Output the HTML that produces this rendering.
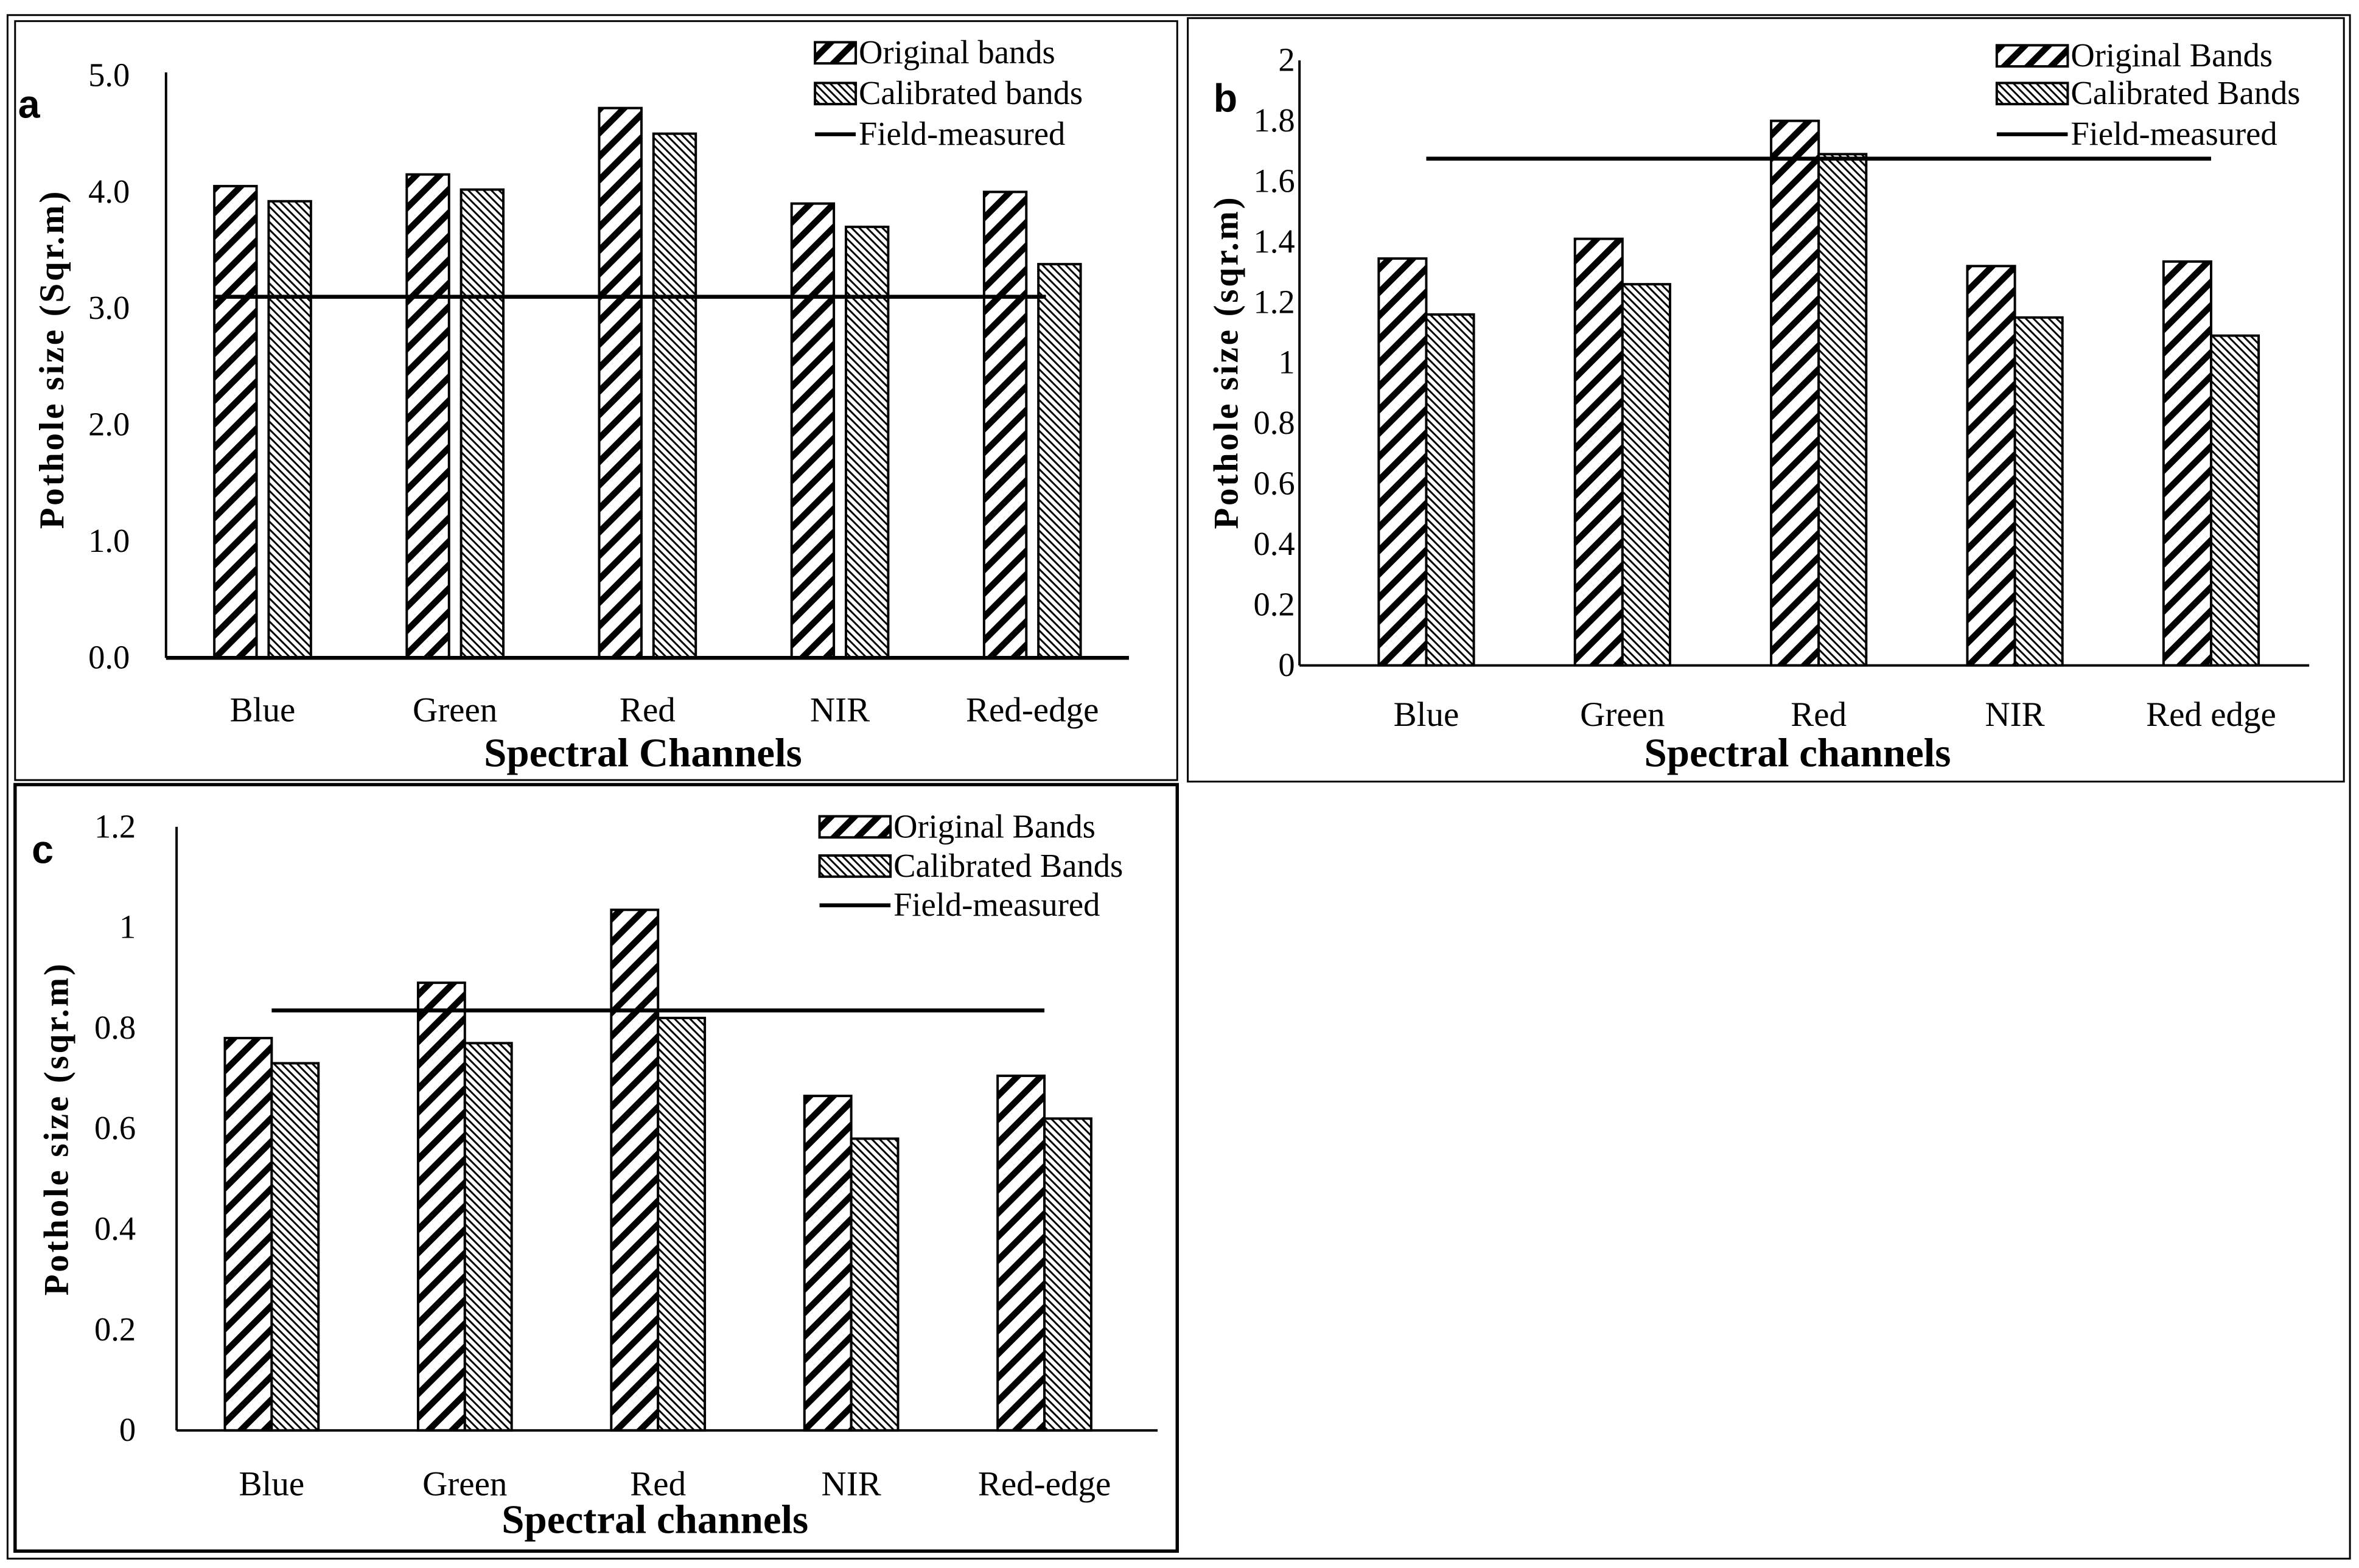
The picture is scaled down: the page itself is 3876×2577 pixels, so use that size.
<!DOCTYPE html>
<html><head><meta charset="utf-8"><style>
html,body{margin:0;padding:0;background:#fff;}
svg{display:block;}
text{font-family:"Liberation Serif",serif;fill:#000;}
</style></head><body>
<svg id="fig" width="3876" height="2577" viewBox="0 0 1563 1039.2" preserveAspectRatio="none" xmlns="http://www.w3.org/2000/svg">
<defs>
<pattern id="pOrig" patternUnits="userSpaceOnUse" width="11" height="11" patternTransform="rotate(45)">
<rect width="11" height="11" fill="#fff"/><rect width="4.2" height="11" fill="#000"/></pattern>
<pattern id="pCal" patternUnits="userSpaceOnUse" width="3.6" height="3.6" patternTransform="rotate(-45)">
<rect width="3.6" height="3.6" fill="#fff"/><rect width="1.2" height="3.6" fill="#000"/></pattern>
</defs>
<rect x="5" y="10" width="1552" height="1023" fill="none" stroke="#000" stroke-width="1.2"/>
<g id="root"></g>
</svg>
<script>
// Panel a data
const catsA = ["Blue","Green","Red","NIR","Red-edge"];
const origA = [4.05,4.15,4.72,3.9,4.0];
const calA = [3.92,4.02,4.5,3.7,3.38];
const fieldA = 3.1;
const ticksA = ["0.0","1.0","2.0","3.0","4.0","5.0"];
const tickValsA = [0,1,2,3,4,5];
// Panel b data
const catsB = ["Blue","Green","Red","NIR","Red edge"];
const origB = [1.345,1.41,1.8,1.32,1.335];
const calB = [1.16,1.26,1.69,1.15,1.09];
const fieldB = 1.675;
const ticksB = ["0","0.2","0.4","0.6","0.8","1","1.2","1.4","1.6","1.8","2"];
const tickValsB = [0,0.2,0.4,0.6,0.8,1,1.2,1.4,1.6,1.8,2];
// Panel c data
const catsC = ["Blue","Green","Red","NIR","Red-edge"];
const origC = [0.78,0.89,1.035,0.665,0.705];
const calC = [0.73,0.77,0.82,0.58,0.62];
const fieldC = 0.835;
const ticksC = ["0","0.2","0.4","0.6","0.8","1","1.2"];
const tickValsC = [0,0.2,0.4,0.6,0.8,1,1.2];

const NS="http://www.w3.org/2000/svg";
const root=document.getElementById('root');
function mk(tag,attrs,parent,txt){const e=document.createElementNS(NS,tag);for(const k in attrs)e.setAttribute(k,attrs[k]);if(txt!==undefined)e.textContent=txt;(parent||root).appendChild(e);return e;}

function panel(o){
  const g=mk('g',{});
  
  
  const fr=mk('rect',{x:o.fx,y:o.fy,width:o.fw,height:o.fh,fill:'none',stroke:'#000','stroke-width':o.fsw},g);
  
  
  const y=v=>o.y0-(v-o.vmin)/(o.vmax-o.vmin)*(o.y0-o.y1);
  const xc=i=>o.c0+i*o.step;
  o.tickVals.forEach((v,i)=>{
    const t=mk('text',{x:o.ax-o.tickOff,y:y(v)+7,'text-anchor':'end','font-size':22},g,o.ticks[i]);
    
    
  });
  o.cats.forEach((c,i)=>{
    const xo=xc(i)-o.gap/2-o.bw, xcal=xc(i)+o.gap/2;
    const b1=mk('rect',{x:xo,y:y(o.orig[i]),width:o.bw,height:o.y0-y(o.orig[i]),fill:'url(#pOrig)',stroke:'#000','stroke-width':1.6},g);
    
    
    const b2=mk('rect',{x:xcal,y:y(o.cal[i]),width:o.bw,height:o.y0-y(o.cal[i]),fill:'url(#pCal)',stroke:'#000','stroke-width':1.6},g);
    
    
    const t=mk('text',{x:xc(i),y:o.catY,'text-anchor':'middle','font-size':23},g,c);
    
    
  });
  const ya=mk('line',{x1:o.ax,y1:o.axTop,x2:o.ax,y2:o.y0,stroke:'#000','stroke-width':o.axw},g);
  
  
  const xa=mk('line',{x1:o.ax,y1:o.y0,x2:o.axRight,y2:o.y0,stroke:'#000','stroke-width':o.xaw},g);
  
  
  const fl=mk('line',{x1:xc(0)+o.fOff0,y1:y(o.field),x2:xc(o.cats.length-1)+o.fOff1,y2:y(o.field),stroke:'#000','stroke-width':2.6},g);
  
  
  const yt=mk('text',{x:0,y:0,transform:`translate(${o.ytX},${o.ytY}) rotate(-90)`,'text-anchor':'middle','font-size':23,'font-weight':'bold','letter-spacing':1.5},g,o.ytitle);
  
  
  const xt=mk('text',{x:o.xtX,y:o.xtY,'text-anchor':'middle','font-size':27,'font-weight':'bold'},g,o.xtitle);
  
  
  const lb=mk('text',{x:o.lx,y:o.ly,'font-size':26,'font-weight':'bold',style:'font-family:"Liberation Sans",sans-serif'},g,o.id);
  
  
  const L=o.leg;
  const lg=mk('g',{},g);
  
  
  const p1=mk('rect',{x:L.x,y:L.y[0]-7,width:L.w,height:14,fill:'url(#pOrig)',stroke:'#000','stroke-width':1.6},lg);
  
  
  const p2=mk('rect',{x:L.x,y:L.y[1]-7,width:L.w,height:14,fill:'url(#pCal)',stroke:'#000','stroke-width':1.6},lg);
  
  
  const p3=mk('line',{x1:L.x,y1:L.y[2],x2:L.x+L.w,y2:L.y[2],stroke:'#000','stroke-width':2.6},lg);
  
  
  L.labels.forEach((s,i)=>{
    const t=mk('text',{x:L.x+L.w+2,y:L.y[i]+7,'font-size':22},lg,s);
    
    
  });
}

panel({id:'a',fx:10,fy:14,fw:770,fh:503,fsw:1.2,cats:catsA,orig:origA,cal:calA,field:fieldA,ticks:ticksA,tickVals:tickValsA,
 vmin:0,vmax:5,y0:436,y1:50,ax:110,axTop:48,axRight:748,axw:1.6,xaw:2.6,tickOff:24,c0:174,step:127.5,bw:28,gap:8,catY:478,
 fOff0:-32,fOff1:9,ytitle:'Pothole size (Sqr.m)',ytX:42,ytY:238,xtitle:'Spectral Channels',xtX:426,xtY:508,lx:12,ly:78,
 leg:{x:540,w:27,y:[35,62,89],labels:['Original bands','Calibrated bands','Field-measured']}});
panel({id:'b',fx:787,fy:12,fw:766,fh:506,fsw:1.2,cats:catsB,orig:origB,cal:calB,field:fieldB,ticks:ticksB,tickVals:tickValsB,
 vmin:0,vmax:2,y0:441,y1:40,ax:861,axTop:40,axRight:1530,axw:1.6,xaw:1.6,tickOff:3,c0:945,step:130,bw:31.5,gap:0,catY:481,
 fOff0:0,fOff1:0,ytitle:'Pothole size (sqr.m)',ytX:820,ytY:240,xtitle:'Spectral channels',xtX:1191,xtY:508,lx:804,ly:74,
 leg:{x:1323,w:47,y:[37,62,89],labels:['Original Bands','Calibrated Bands','Field-measured']}});
panel({id:'c',fx:10,fy:520,fw:770,fh:508,fsw:2.2,cats:catsC,orig:origC,cal:calC,field:fieldC,ticks:ticksC,tickVals:tickValsC,
 vmin:0,vmax:1.2,y0:948,y1:548,ax:117,axTop:548,axRight:767,axw:1.6,xaw:1.6,tickOff:27,c0:180,step:128,bw:31,gap:0,catY:991,
 fOff0:0,fOff1:0,ytitle:'Pothole size (sqr.m)',ytX:45,ytY:748,xtitle:'Spectral channels',xtX:434,xtY:1016,lx:21,ly:572,
 leg:{x:543,w:47,y:[548,574,600],labels:['Original Bands','Calibrated Bands','Field-measured']}});
</script>
</body></html>
